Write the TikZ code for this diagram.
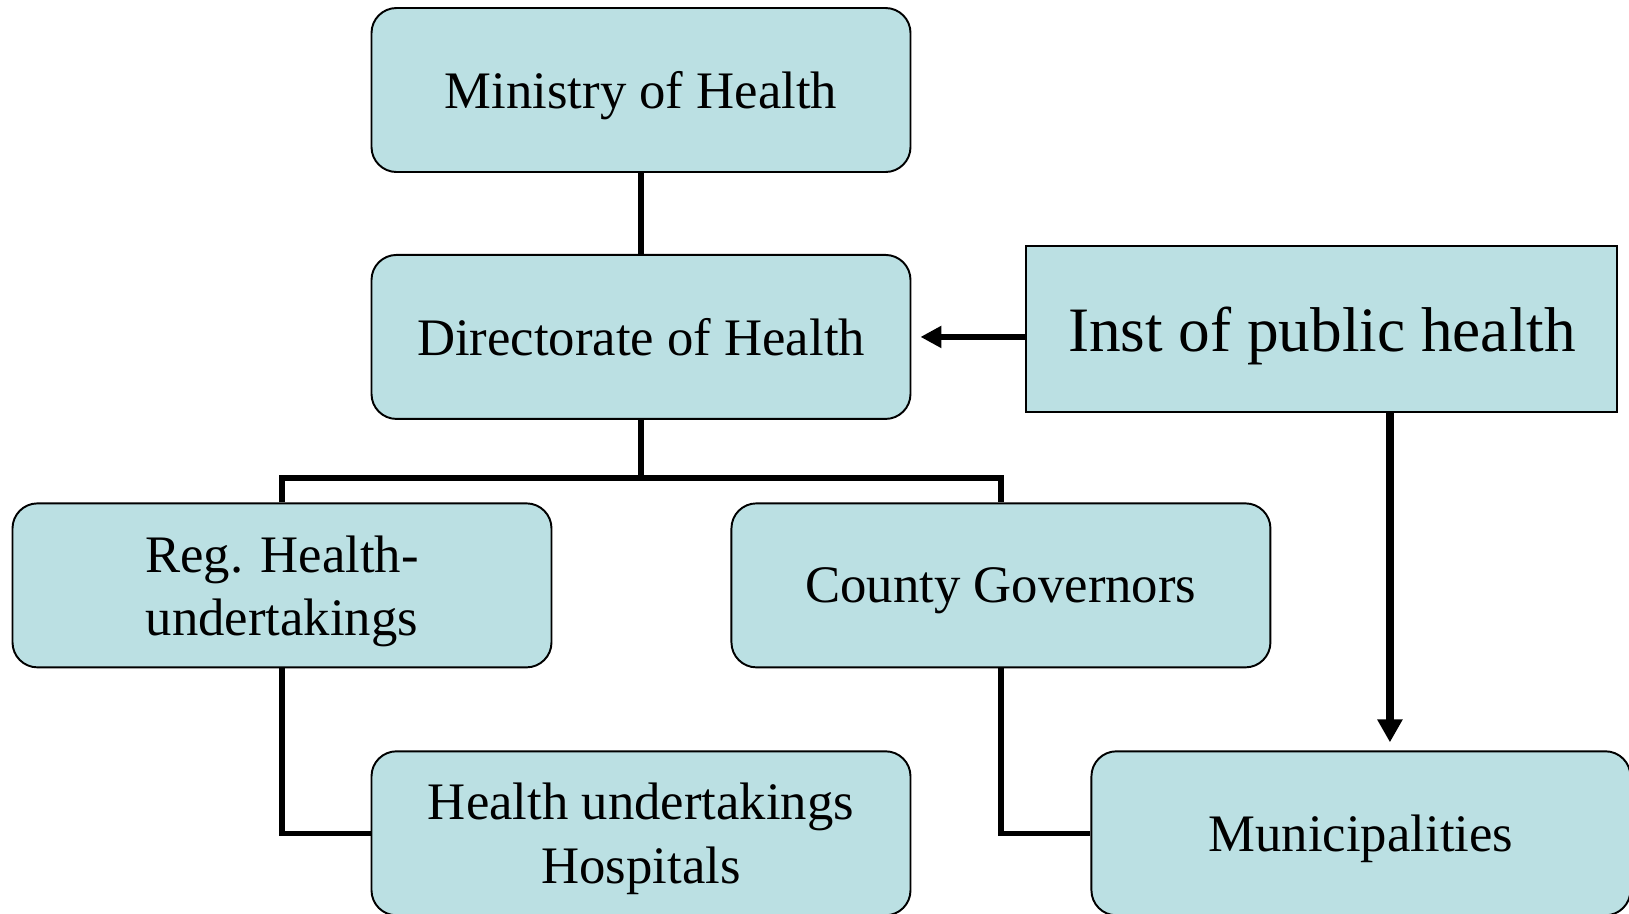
\documentclass[tikz,border=0pt]{standalone}
\usepackage{fontspec}
\setmainfont{Liberation Serif}
\usetikzlibrary{positioning,arrows.meta}
\definecolor{boxfill}{HTML}{BBE0E3}

\begin{document}
\begin{tikzpicture}[node distance=1.62cm,
    box/.style={draw, fill=boxfill, line width=1.1pt, rounded corners=0.5cm, minimum width=10.78cm, minimum height=3.28cm, align=center, inner sep=0pt, text depth=0pt, font=\fontsize{30}{36}\selectfont},
    instbox/.style={draw, fill=boxfill, line width=1.1pt, minimum width=11.82cm, minimum height=3.32cm, inner sep=0pt, text depth=0pt, font=\fontsize{36}{43}\selectfont},
    link/.style={line width=3.1pt},
    arrow/.style={line width=3.8pt, -{Triangle[length=0.42cm, width=0.42cm]}}]
    \useasboundingbox (0,0) rectangle (32.58,-18.26);
    \node (ministry) [box] at (12.82,-1.8) {Ministry of Health};
    \node (directorate) [box, below=of ministry] {Directorate of Health};
    \node (inst) [instbox, right=2.28cm of directorate, yshift=0.16cm] {Inst of public health};
    \node (reg) [box, below=1.65cm of directorate, xshift=-7.18cm] {Reg. Health-\\undertakings};
    \node (county) [box, right=3.56cm of reg] {County Governors};
    \node (hosp) [box, below=1.64cm of reg, xshift=7.18cm] {Health undertakings\\Hospitals};
    \node (munic) [box, below=1.64cm of county, xshift=7.2cm] {Municipalities};
    \coordinate (bus) at ([yshift=-1.16cm]directorate.south);
    \coordinate (drop) at ([xshift=1.36cm]inst.south);
    \draw[link] (ministry) -- (directorate);
    \draw[link] (directorate) -- (bus);
    \draw[link] (reg) |- (bus) -| (county);
    \draw[link] (reg) |- (hosp);
    \draw[link] (county) |- (munic);
    \draw[arrow, shorten >=0.18cm] (inst.west |- directorate.east) -- (directorate.east);
    \draw[arrow, line width=4.5pt, -{Triangle[length=0.46cm, width=0.48cm]}, shorten >=0.16cm] (drop) -- (drop |- munic.north);
\end{tikzpicture}
\end{document}
